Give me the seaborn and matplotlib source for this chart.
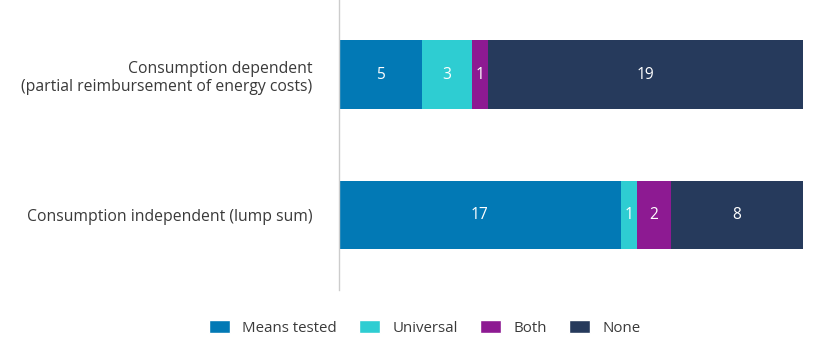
import numpy as np
import pandas as pd
import matplotlib
matplotlib.use("Agg")
import matplotlib.pyplot as plt
import seaborn as sns
from matplotlib.patches import Patch

categories = ["Consumption dependent\n(partial reimbursement of energy costs)",
              "Consumption independent (lump sum)"]
series = ["Means tested", "Universal", "Both", "None"]
means_tested = [5, 17]
universal = [3, 1]
both = [1, 2]
none = [19, 8]
colors = ["#0279b5", "#2ecdd2", "#8d1a92", "#263a5c"]

sns.set_theme(style="white")
plt.rcParams["font.family"] = ["Open Sans", "DejaVu Sans"]

values = [means_tested, universal, both, none]
fig = plt.figure(figsize=(8.25, 3.4), dpi=100)
ax = fig.add_axes([0.411, 0.147, 0.5625, 0.853])

cum = np.cumsum(np.array(values), axis=0)
# draw from the full stack down so each segment shows
for i in range(len(series) - 1, -1, -1):
    df = pd.DataFrame({"cat": categories, "val": cum[i]})
    sns.barplot(data=df, y="cat", x="val", orient="h", color=colors[i],
                saturation=1, width=0.486, ax=ax, edgecolor="none")

for i in range(len(series)):
    for j in range(len(categories)):
        v = values[i][j]
        ax.text(cum[i][j] - v / 2, j, str(v), ha="center", va="center",
                color="white", fontsize=11.2)

ax.set_xlim(0, 28)
ax.set_ylim(1.539, -0.532)
ax.set_xlabel("")
ax.set_ylabel("")
ax.set_xticks([])
ax.tick_params(axis="y", length=0, pad=19, labelsize=11.3, labelcolor="#3a3a3a")
for lbl in ax.get_yticklabels():
    lbl.set_horizontalalignment("right")
for s in ["top", "right", "bottom"]:
    ax.spines[s].set_visible(False)
ax.spines["left"].set_color("#cccccc")
ax.spines["left"].set_linewidth(1)

handles = [Patch(facecolor=c, label=s) for c, s in zip(colors, series)]
fig.legend(handles=handles, loc="center", bbox_to_anchor=(0.515, 0.035), ncol=4,
           frameon=False, fontsize=10.8, handlelength=1.4, handleheight=0.9,
           columnspacing=1.5, handletextpad=0.8, labelcolor="#3a3a3a")

fig.savefig("out.png", dpi=100)
